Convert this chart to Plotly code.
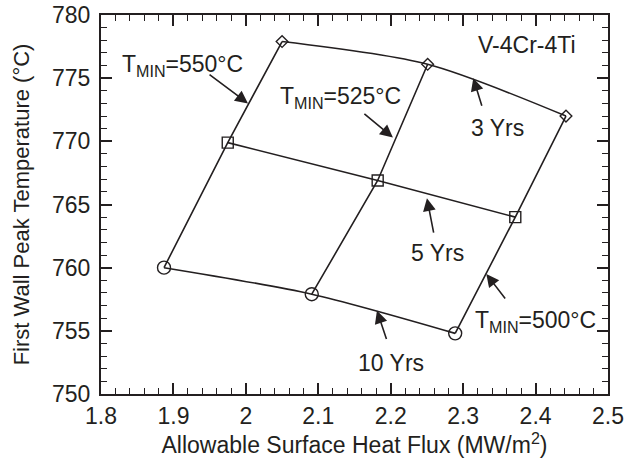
import plotly.graph_objects as go

# Design points: each T_MIN line crosses the 10, 5 and 3 year lifetimes
heat_flux_550 = [1.887, 1.975, 2.050]
temp_550 = [760.0, 769.9, 777.9]
heat_flux_525 = [2.091, 2.182, 2.251]
temp_525 = [757.9, 766.9, 776.1]
heat_flux_500 = [2.289, 2.372, 2.442]
temp_500 = [754.8, 764.0, 772.0]

years = ["10 Yrs", "5 Yrs", "3 Yrs"]
year_symbols = ["circle-open", "square-open", "diamond-open"]
year_sizes = [13, 11, 9]

x_ticks = [1.8, 1.9, 2.0, 2.1, 2.2, 2.3, 2.4, 2.5]
x_tick_text = ["1.8", "1.9", "2", "2.1", "2.2", "2.3", "2.4", "2.5"]
y_ticks = [750, 755, 760, 765, 770, 775, 780]
x_range = [1.8, 2.5]
y_range = [750, 780]

FONT = "Liberation Sans, Arial, Helvetica, sans-serif"
BLACK = "#231f20"

fig = go.Figure()

tmin_lines = [(heat_flux_550, temp_550), (heat_flux_525, temp_525), (heat_flux_500, temp_500)]

# Straight constant-T_MIN lines
for xs, ys in tmin_lines:
    fig.add_trace(go.Scatter(x=xs, y=ys, mode="lines",
                             line=dict(color=BLACK, width=1.6), showlegend=False,
                             hoverinfo="skip"))

# Curved constant-lifetime lines with markers
for i in range(3):
    xs = [line[0][i] for line in tmin_lines]
    ys = [line[1][i] for line in tmin_lines]
    fig.add_trace(go.Scatter(x=xs, y=ys, mode="lines+markers", name=years[i],
                             line=dict(color=BLACK, width=1.6, shape="spline", smoothing=0.8),
                             marker=dict(symbol=year_symbols[i], size=year_sizes[i],
                                         color=BLACK, line=dict(width=1.4)),
                             showlegend=False))

# Empty trace so the top/right frame axes are drawn
fig.add_trace(go.Scatter(x=[], y=[], xaxis="x2", yaxis="y2", showlegend=False))

ann_font = dict(family=FONT, size=23, color=BLACK)

# Labels
labels = [
    ("T<sub>MIN</sub>=550°C", 1.826, 776.0, "left"),
    ("T<sub>MIN</sub>=525°C", 2.045, 773.5, "left"),
    ("T<sub>MIN</sub>=500°C", 2.313, 755.7, "left"),
    ("V-4Cr-4Ti", 2.388, 777.6, "center"),
    ("3 Yrs", 2.348, 771.05, "center"),
    ("5 Yrs", 2.265, 761.16, "center"),
    ("10 Yrs", 2.200, 752.45, "center"),
]
for text, x, y, xa in labels:
    fig.add_annotation(x=x, y=y, text=text, showarrow=False, xanchor=xa,
                       yanchor="middle", font=ann_font)

# Pointer arrows (head in data units, tail offset in pixels)
arrows = [
    (2.003, 773.0, -40, -30),
    (2.203, 770.3, -30, -25),
    (2.314, 775.0, 9, 29),
    (2.250, 765.5, 7, 36),
    (2.181, 756.6, 10, 30),
    (2.332, 759.5, 20, 26),
]
for x, y, ax, ay in arrows:
    fig.add_annotation(x=x, y=y, ax=ax, ay=ay, text="", showarrow=True,
                       arrowhead=2, arrowsize=1.6, arrowwidth=1.6, arrowcolor=BLACK,
                       standoff=0)

axis_common = dict(
    showgrid=False, zeroline=False, showline=True, linecolor=BLACK, linewidth=2,
    ticks="inside", ticklen=11, tickwidth=1.6, tickcolor=BLACK, automargin=False,
    tickfont=dict(family=FONT, size=23, color=BLACK),
)
x_minor = dict(dtick=0.02, ticks="inside", ticklen=6, tickwidth=1.4,
               tickcolor=BLACK, showgrid=False)
y_minor = dict(dtick=1, ticks="inside", ticklen=6, tickwidth=1.4,
               tickcolor=BLACK, showgrid=False)

fig.update_layout(
    xaxis=dict(range=x_range, tickvals=x_ticks, ticktext=x_tick_text, minor=x_minor,
               title=dict(text="Allowable Surface Heat Flux (MW/m<sup>2</sup>)",
                          font=dict(family=FONT, size=23, color=BLACK), standoff=0),
               **axis_common),
    yaxis=dict(range=y_range, tickvals=y_ticks, minor=y_minor, ticklabelstandoff=4,
               title=dict(text="First Wall Peak Temperature (°C)",
                          font=dict(family=FONT, size=22, color=BLACK), standoff=16),
               **axis_common),
    xaxis2=dict(range=x_range, tickvals=x_ticks, minor=x_minor, overlaying="x",
                side="top", showticklabels=False, **axis_common),
    yaxis2=dict(range=y_range, tickvals=y_ticks, minor=y_minor, overlaying="y",
                side="right", showticklabels=False, **axis_common),
    width=630, height=462, margin=dict(l=101, r=22, t=15, b=68),
    plot_bgcolor="white", paper_bgcolor="white",
)

fig.write_html("out.html")
